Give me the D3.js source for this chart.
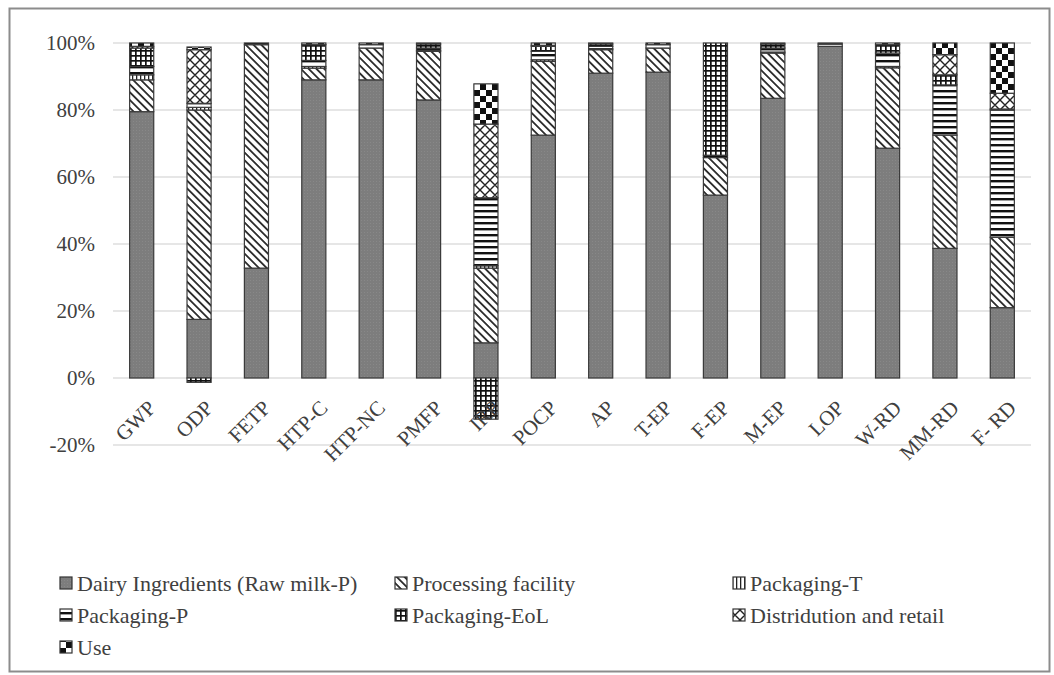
<!DOCTYPE html>
<html><head><meta charset="utf-8">
<script src="https://cdn.jsdelivr.net/npm/d3@7"></script>
<style>
html,body{margin:0;padding:0;background:#fff;}
svg{display:block;}
</style></head>
<body>
<svg id="chart" width="1054" height="675"></svg>
<script>
const categories = ["GWP","ODP","FETP","HTP-C","HTP-NC","PMFP","IRP","POCP","AP","T-EP","F-EP","M-EP","LOP","W-RD","MM-RD","F- RD"];
const seriesNames = ["Dairy Ingredients (Raw milk-P)","Processing facility","Packaging-T","Packaging-P","Packaging-EoL","Distridution and retail","Use"];
const dairy      = [79.5,17.5,32.8,89.0,89.0,83.0,10.5,72.5,91.0,91.3,54.6,83.5,99.0,68.6,38.7,21.0];
const processing = [ 9.5,62.5,66.7, 3.5, 9.5,14.5,22.3,22.0, 7.0, 7.2,11.2,13.5, 0.0,24.0,33.8,21.0];
const packagingT = [ 1.5, 0.8, 0.0, 0.5, 0.0, 0.3, 0.7, 0.5, 0.3, 0.0, 0.0, 0.3, 0.0, 0.4, 0.0, 0.0];
const packagingP = [ 2.5, 1.2, 0.5, 1.8, 1.0, 0.7,20.3, 2.5, 0.7, 1.0, 0.7, 1.2, 0.7, 4.0,15.0,38.0];
const packagingEoL=[ 5.5,-1.3, 0.0, 4.7, 0.0, 1.2,-12.3,1.5, 0.7, 0.0,33.5, 1.2, 0.0, 2.5, 3.0, 0.3];
const distribution=[ 0.5,16.0, 0.0, 0.0, 0.0, 0.0,22.0, 0.3, 0.0, 0.0, 0.0, 0.0, 0.0, 0.0, 6.0, 4.7];
const use        = [ 1.0, 0.8, 0.0, 0.5, 0.5, 0.3,12.0, 0.7, 0.3, 0.5, 0.0, 0.3, 0.3, 0.5, 3.5,15.0];
const yTicks = [-20,0,20,40,60,80,100];

const FONT = "'Liberation Serif','Times New Roman',serif";
const seriesValues = [dairy,processing,packagingT,packagingP,packagingEoL,distribution,use];
const keys = ["dairy","proc","packT","packP","eol","dist","use"];
const rows = categories.map((c,i)=>{const r={cat:c}; keys.forEach((k,j)=>r[k]=seriesValues[j][i]); return r;});

const svg = d3.select("#chart");
const defs = svg.append("defs");

function pat(id,w,h,build,transform){
  const p = defs.append("pattern").attr("id",id).attr("patternUnits","userSpaceOnUse").attr("width",w).attr("height",h);
  if(transform) p.attr("patternTransform",transform);
  build(p);
}
pat("p-dairy",3,3,p=>{p.append("rect").attr("width",3).attr("height",3).attr("fill","#7d7d7d");
  p.append("rect").attr("x",1).attr("y",1).attr("width",1).attr("height",1).attr("fill","#888");});
pat("p-proc",5.5,5.5,p=>{p.append("rect").attr("width",5.5).attr("height",5.5).attr("fill","#fff");
  p.append("rect").attr("y",0).attr("width",5.5).attr("height",1.8).attr("fill","#2a2a2a");},"rotate(45)");
pat("p-packT",4,4,p=>{p.append("rect").attr("width",4).attr("height",4).attr("fill","#fff");
  p.append("rect").attr("x",0).attr("width",1.3).attr("height",4).attr("fill","#222");});
pat("p-packP",6,6,p=>{p.append("rect").attr("width",6).attr("height",6).attr("fill","#fff");
  p.append("rect").attr("y",0).attr("width",6).attr("height",2.4).attr("fill","#111");});
pat("p-eol",5,5,p=>{p.append("rect").attr("width",5).attr("height",5).attr("fill","#fff");
  p.append("rect").attr("width",5).attr("height",1.7).attr("fill","#111");
  p.append("rect").attr("width",1.7).attr("height",5).attr("fill","#111");});
pat("p-dist",10,10,p=>{p.append("rect").attr("width",10).attr("height",10).attr("fill","#fff");
  p.append("path").attr("d","M0,0L10,10M10,0L0,10M-5,5L5,15M5,-5L15,5M-5,5L5,-5M5,15L15,5").attr("stroke","#222").attr("stroke-width",1.4);});
pat("p-use",12,12,p=>{p.append("rect").attr("width",12).attr("height",12).attr("fill","#fff");
  p.append("rect").attr("x",0).attr("y",0).attr("width",6).attr("height",6).attr("fill","#111");
  p.append("rect").attr("x",6).attr("y",6).attr("width",6).attr("height",6).attr("fill","#111");});

const fills = {dairy:"url(#p-dairy)",proc:"url(#p-proc)",packT:"url(#p-packT)",packP:"url(#p-packP)",eol:"url(#p-eol)",dist:"url(#p-dist)",use:"url(#p-use)"};

svg.append("rect").attr("x",9.5).attr("y",8.5).attr("width",1040).attr("height",663)
  .attr("fill","#fff").attr("stroke","#8c8c8c").attr("stroke-width",2);

const x = d3.scaleBand().domain(categories).range([113,1031]).paddingInner(0.58).paddingOuter(0.29);
const y = d3.scaleLinear().domain([-20,100]).range([445,43]);

svg.append("g").selectAll("line").data(yTicks).join("line")
  .attr("x1",113).attr("x2",1031).attr("y1",d=>y(d)).attr("y2",d=>y(d))
  .attr("stroke","#dedede").attr("stroke-width",1.5);

const yAxis = d3.axisLeft(y).tickValues(yTicks).tickFormat(d=>d+"%").tickSize(0).tickPadding(0);
const gy = svg.append("g").attr("transform","translate(95,0)").call(yAxis);
gy.select(".domain").remove();
gy.attr("font-family",FONT);
gy.selectAll("text").attr("font-size",21).attr("fill","#404040").attr("font-family",FONT);

const stack = d3.stack().keys(keys).offset(d3.stackOffsetDiverging);
const layers = stack(rows);
const g = svg.append("g");
layers.forEach(layer=>{
  g.append("g").selectAll("rect").data(layer.filter(d=>Math.abs(d[1]-d[0])>0.0001)).join("rect")
    .attr("x",d=>x(d.data.cat)).attr("width",x.bandwidth())
    .attr("y",d=>y(Math.max(d[0],d[1]))).attr("height",d=>Math.abs(y(d[0])-y(d[1])))
    .attr("fill",fills[layer.key]).attr("stroke","#3a3a3a").attr("stroke-width",1.2);
});

const xAxis = d3.axisBottom(x).tickSize(0).tickPadding(0);
const gx = svg.append("g").call(xAxis);
gx.select(".domain").remove();
gx.attr("font-family",FONT);
gx.selectAll(".tick text")
  .attr("font-size",21).attr("fill","#404040").attr("font-family",FONT)
  .attr("text-anchor","end").attr("y",0).attr("dy","0.35em")
  .attr("transform","translate(10,404) rotate(-45)");

const legendPos = [[60,583],[395,583],[733,583],[60,615],[395,615],[733,615],[60,647]];
const lg = svg.append("g").attr("font-family",FONT);
seriesNames.forEach((name,i)=>{
  const [lx,ly] = legendPos[i];
  lg.append("rect").attr("x",lx).attr("y",ly-6).attr("width",12).attr("height",12)
    .attr("fill",fills[keys[i]]).attr("stroke","#333").attr("stroke-width",1.2);
  lg.append("text").attr("x",lx+17).attr("y",ly).attr("dy","0.35em")
    .attr("font-family",FONT).attr("font-size",22).attr("fill","#404040").text(name);
});
</script>
</body></html>
